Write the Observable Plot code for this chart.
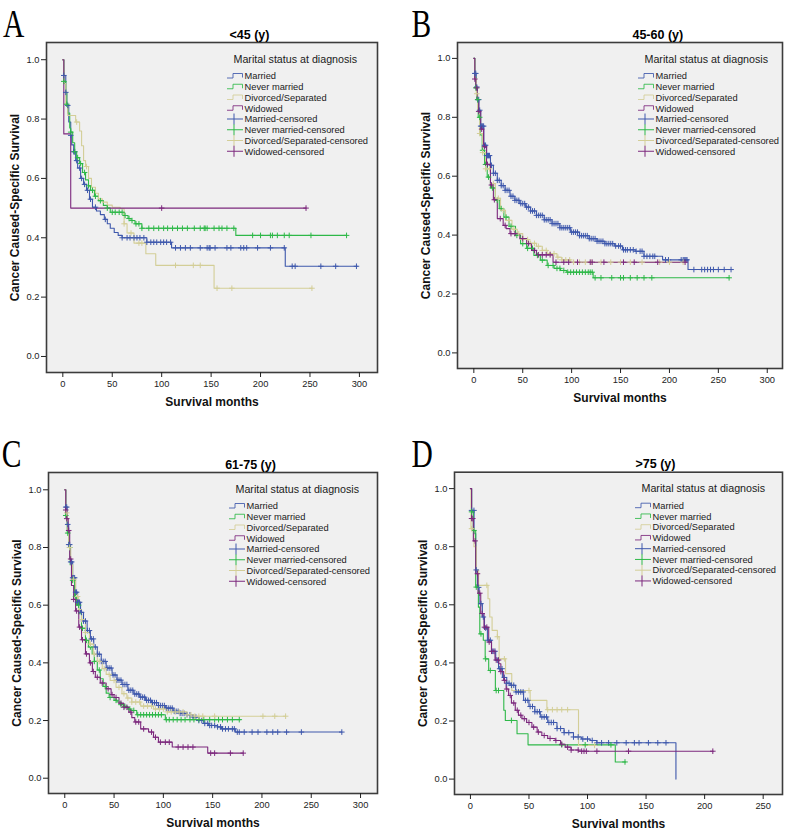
<!DOCTYPE html>
<html>
<head>
<meta charset="utf-8">
<script src="https://cdn.jsdelivr.net/npm/d3@7"></script>
<script src="https://cdn.jsdelivr.net/npm/@observablehq/plot@0.6"></script>
<style>
  html, body { margin: 0; padding: 0; background: #ffffff; }
  #wrap { position: relative; width: 787px; height: 831px; overflow: hidden; }
  .panel { position: absolute; }
  #letters { position: absolute; left: 0; top: 0; pointer-events: none; }
</style>
</head>
<body>
<div id="wrap"></div>
<script>
// ---------- DATA ----------
const series = ["Married", "Never married", "Divorced/Separated", "Widowed"];
const xTicksA = [0, 50, 100, 150, 200, 250, 300];
const xTicksD = [0, 50, 100, 150, 200, 250];
const yTicks = [0, 0.2, 0.4, 0.6, 0.8, 1.0];
const panelTitles = ["<45 (y)", "45-60 (y)", "61-75 (y)", ">75 (y)"];
const panelLetters = ["A", "B", "C", "D"];

// Panel A  (<45)  [months, survival]
const aMarried = [[0,1],[1,0.947],[3,0.89],[4,0.846],[6,0.79],[8,0.745],[9,0.713],[11,0.69],[13,0.66],[15,0.635],[18,0.6],[21,0.58],[24,0.56],[27,0.53],[30,0.503],[34,0.49],[38,0.478],[42,0.462],[45,0.447],[48,0.432],[52,0.418],[56,0.408],[60,0.4],[85,0.385],[110,0.366],[225,0.304],[298,0.304]];
const aMarriedCens = [1,3,5,8,11,12,14,17,19,22,25,28,33,43,60,65,68,72,75,78,82,85,89,92,95,99,102,105,109,114,119,124,129,139,146,148,149,154,166,170,180,183,186,197,210,224,232,235,261,276,297];
const aNever = [[0,1],[1,0.927],[3,0.89],[4,0.85],[5,0.82],[7,0.77],[8,0.756],[10,0.72],[12,0.69],[14,0.67],[17,0.65],[20,0.62],[23,0.595],[26,0.575],[28,0.56],[32,0.54],[36,0.525],[41,0.509],[45,0.5],[48,0.486],[62,0.475],[66,0.465],[69,0.458],[73,0.447],[80,0.432],[175,0.408],[287,0.408]];
const aNeverCens = [1,4,8,12,15,18,22,26,30,33,38,45,50,53,57,60,63,67,70,74,77,80,87,92,97,102,106,111,116,121,126,133,139,143,144,146,153,158,161,166,173,192,200,210,212,217,224,229,251,287];
const aDivorced = [[0,1],[1,0.92],[3,0.85],[5,0.812],[13,0.79],[17,0.76],[19,0.71],[21,0.66],[23,0.64],[26,0.6],[29,0.57],[33,0.55],[36,0.531],[40,0.52],[45,0.51],[50,0.503],[58,0.498],[62,0.447],[65,0.416],[72,0.382],[84,0.346],[94,0.307],[153,0.23],[252,0.23]];
const aDivorcedCens = [14,24,62,69,77,80,114,132,139,156,171,252];
const aWidowed = [[0,1],[1,0.75],[8,0.5],[246,0.5]];
const aWidowedCens = [100,246];

// Panel B  (45-60)
const bMarried = [[0,1],[1,0.949],[2.4,0.903],[3.5,0.86],[5.1,0.824],[7,0.77],[10.2,0.705],[13,0.67],[17,0.637],[20,0.61],[24,0.586],[28,0.568],[32,0.552],[37,0.532],[42,0.518],[47,0.507],[53,0.495],[58,0.482],[64,0.467],[72,0.452],[80,0.439],[88,0.425],[99,0.41],[108,0.398],[118,0.388],[126,0.379],[134,0.371],[144,0.363],[152,0.35],[165,0.345],[174,0.328],[193,0.316],[219,0.283],[264,0.283]];
const bMarriedCens = [1,2,3,4,5,6,7,8,9,10,11,12,13,14,15,16,18,20,22,24,26,28,30,32,34,36,38,40,42,44,46,48,50,52,54,56,58,60,62,64,66,68,70,72,74,76,78,80,82,84,86,88,90,92,94,96,98,100,102,104,106,108,110,112,114,116,118,120,122,124,126,128,130,132,134,136,138,140,142,145,148,150,153,155,157,160,163,166,170,172,174,177,180,183,185,196,199,212,214,215,216,217,218,225,233,236,239,242,245,250,256,263];
const bNever = [[0,1],[1,0.937],[2,0.9],[3,0.86],[4.5,0.8],[6.5,0.74],[8.6,0.688],[11,0.64],[13.7,0.597],[17,0.56],[22,0.518],[26,0.49],[30.7,0.461],[36,0.43],[42.6,0.399],[47.8,0.371],[54,0.355],[61.4,0.331],[68,0.315],[75,0.297],[82,0.287],[88.6,0.28],[95,0.274],[122,0.255],[261,0.255]];
const bNeverCens = [2,4,6,9,12,15,19,24,28,33,38,44,50,55,60,65,70,76,81,85,88,92,96,99,102,105,108,111,114,117,119,121,124,130,141,150,153,160,167,174,182,261];
const bDivorced = [[0,1],[1,0.932],[2.5,0.88],[4,0.82],[6,0.745],[9,0.68],[12,0.625],[17,0.575],[22,0.525],[27.3,0.484],[32.4,0.45],[39,0.42],[44.4,0.405],[50,0.385],[56,0.372],[64,0.362],[70,0.348],[75,0.337],[85,0.325],[90,0.316],[99,0.308],[215,0.308]];
const bDivorcedCens = [3,6,9,12,16,20,25,30,36,41,46,50,55,58,62,66,70,74,78,82,86,90,94,98,102,108,114,120,130,140,150,160,172,190,200,214];
const bWidowed = [[0,1],[1,0.93],[2,0.9],[3.5,0.86],[5,0.82],[7,0.76],[10,0.7],[13,0.64],[17,0.57],[20,0.52],[24,0.456],[30,0.433],[33,0.422],[37,0.405],[47,0.388],[54,0.371],[59,0.348],[64,0.333],[81,0.308],[217,0.308]];
const bWidowedCens = [1,3,5,8,11,14,18,21,27,32,38,42,50,56,62,66,70,74,78,84,92,97,106,119,121,133,153,164,188,216];

// Panel C  (61-75)
const cMarried = [[0,1],[1,0.94],[2.4,0.88],[4,0.81],[5.8,0.75],[8,0.695],[10.9,0.645],[13,0.61],[16,0.575],[19,0.545],[22.7,0.512],[26,0.483],[29.4,0.455],[33,0.43],[37,0.405],[42,0.382],[48,0.358],[53,0.34],[58,0.325],[64,0.305],[70,0.292],[76,0.281],[82,0.27],[88,0.262],[95,0.252],[102,0.243],[110,0.232],[117,0.225],[124,0.22],[130,0.212],[136,0.2],[141,0.19],[146,0.183],[155,0.178],[159,0.171],[173,0.16],[281,0.16]];
const cMarriedCens = [1,2,3,4,5,6,7,8,9,10,11,12,13,14,15,17,19,21,23,25,27,29,31,33,35,37,39,41,43,45,47,49,51,53,55,57,59,61,63,65,67,69,71,73,75,77,79,81,83,85,87,89,91,93,95,97,99,101,103,105,107,109,111,113,115,117,119,121,124,127,130,133,136,139,142,145,147,149,152,155,158,160,163,166,170,172,175,177,182,190,196,205,211,216,225,240,281];
const cNever = [[0,1],[1,0.911],[2.5,0.85],[4,0.8],[5.5,0.74],[7.5,0.686],[10,0.63],[12,0.6],[14.2,0.57],[17,0.52],[21,0.478],[24,0.455],[27.8,0.431],[30,0.405],[33,0.375],[36,0.345],[39,0.318],[42,0.295],[45,0.28],[50,0.27],[53,0.264],[57,0.255],[60,0.249],[64,0.24],[67,0.235],[73,0.22],[102,0.203],[178,0.203]];
const cNeverCens = [1,3,5,8,11,14,18,22,26,30,35,41,46,52,57,61,66,70,74,77,80,83,86,89,92,95,98,103,106,110,114,118,122,127,131,136,141,147,152,156,160,165,170,177];
const cDivorced = [[0,1],[1,0.92],[2.5,0.86],[4,0.8],[6,0.74],[8,0.69],[11,0.63],[14,0.585],[17,0.55],[21,0.505],[25,0.465],[29,0.43],[33,0.405],[38,0.38],[42,0.36],[46,0.339],[52,0.315],[58,0.293],[63,0.278],[68,0.264],[77,0.25],[90,0.24],[104,0.23],[124,0.22],[131,0.215],[224,0.215]];
const cDivorcedCens = [2,5,9,13,17,21,26,30,35,40,45,50,55,60,64,68,72,76,80,84,88,92,96,100,104,108,112,116,120,124,128,132,136,140,152,201,213,224];
const cWidowed = [[0,1],[1,0.93],[2,0.9],[3.5,0.859],[5,0.76],[6.8,0.668],[9,0.62],[11,0.58],[14.2,0.524],[17,0.48],[21,0.431],[25,0.4],[28,0.37],[31,0.35],[36,0.33],[42,0.31],[47,0.29],[50,0.28],[55,0.26],[60,0.246],[65,0.229],[68,0.21],[71,0.195],[77,0.171],[85,0.16],[90,0.142],[95,0.125],[109,0.108],[145,0.087],[181,0.087]];
const cWidowedCens = [1,2,4,6,9,12,15,18,22,26,29,33,38,44,48,52,57,60,63,67,72,75,80,88,92,97,102,106,115,120,125,130,148,152,168,181];

// Panel D  (>75)
const dMarried = [[0,1],[1,0.925],[3.1,0.845],[4.5,0.72],[6,0.66],[7.4,0.604],[10.2,0.558],[12,0.52],[14.5,0.478],[18,0.44],[21.6,0.409],[24,0.38],[27.3,0.35],[31,0.33],[34,0.323],[38.6,0.3],[45.4,0.271],[50,0.25],[55,0.232],[59.7,0.214],[66,0.195],[73.9,0.174],[80,0.16],[88,0.145],[95,0.138],[102.3,0.133],[108,0.125],[175.5,0]];
const dMarriedCens = [1,3,5,7,9,11,13,15,17,19,21,23,25,27,29,31,33,35,37,39,41,43,45,47,49,51,53,55,57,59,61,63,65,67,69,71,74,77,80,84,88,92,96,100,104,108,112,118,125,133,140,144,152,160,167];
const dNever = [[0,1],[1,0.92],[2.5,0.856],[4.5,0.661],[6.8,0.592],[8,0.5],[11,0.478],[12.6,0.414],[15.6,0.374],[21.3,0.305],[28.5,0.237],[29.8,0.202],[39.8,0.156],[49.2,0.118],[123.7,0.059],[132.4,0.059]];
const dNeverCens = [1,3,5,9,13,17,22,24,35,78,98,120,132];
const dDivorced = [[0,1],[0.5,0.862],[3,0.8],[5,0.72],[7,0.667],[15,0.621],[16.5,0.558],[18.5,0.512],[23,0.49],[24.5,0.414],[30,0.363],[35.3,0.305],[51,0.271],[65.3,0.239],[92.3,0.116],[106.5,0.116]];
const dDivorcedCens = [1,14,23,29,50,66,70,74,78,83,106];
const dWidowed = [[0,1],[1,0.897],[2.5,0.82],[4.5,0.707],[6.5,0.64],[8.8,0.57],[11.6,0.523],[15.6,0.472],[18,0.44],[21,0.41],[24.2,0.397],[26,0.37],[28.4,0.34],[30.5,0.31],[32.6,0.288],[35,0.262],[38.3,0.237],[41,0.22],[44,0.208],[48,0.195],[52.5,0.179],[57,0.162],[61,0.15],[66,0.14],[72.4,0.133],[77,0.12],[80.9,0.11],[86,0.1],[92.3,0.096],[207.3,0.096]];
const dWidowedCens = [1,2,4,6,8,10,12,14,16,18,20,22,24,26,29,31,34,37,40,43,46,50,54,58,63,68,73,78,83,86,92,95,97,99,108,135,207];

// ---------- STYLE ----------
const FONT = "'Liberation Sans', Arial, Helvetica, sans-serif";
const COLORS = ["#3E58AC", "#2EB848", "#D3CE97", "#7C287D"];

const panels = [
  { curves: [aMarried, aNever, aDivorced, aWidowed], cens: [aMarriedCens, aNeverCens, aDivorcedCens, aWidowedCens],
    left: 0, top: 0, width: 390, height: 415, m: { l: 46, r: 13, t: 42, b: 43 },
    xDomain: [-16.5, 318.3], yDomain: [-0.054, 1.058], xTicks: xTicksA, titleDx: 37.5 },
  { curves: [bMarried, bNever, bDivorced, bWidowed], cens: [bMarriedCens, bNeverCens, bDivorcedCens, bWidowedCens],
    left: 390, top: 0, width: 397, height: 415, m: { l: 67, r: 5, t: 42, b: 47 },
    xDomain: [-16.7, 315.6], yDomain: [-0.053, 1.054], xTicks: xTicksA, titleDx: 37.8 },
  { curves: [cMarried, cNever, cDivorced, cWidowed], cens: [cMarriedCens, cNeverCens, cDivorcedCens, cWidowedCens],
    left: 0, top: 415, width: 390, height: 416, m: { l: 48, r: 13, t: 57, b: 38 },
    xDomain: [-16.5, 317.2], yDomain: [-0.053, 1.06], xTicks: xTicksA, titleDx: 37.5 },
  { curves: [dMarried, dNever, dDivorced, dWidowed], cens: [dMarriedCens, dNeverCens, dDivorcedCens, dWidowedCens],
    left: 390, top: 415, width: 397, height: 416, m: { l: 64, r: 5, t: 56.7, b: 37 },
    xDomain: [-13.6, 266.5], yDomain: [-0.053, 1.0565], xTicks: xTicksD, titleDx: 37 }
];

function stepAt(curve, t) {
  let v = curve[0][1];
  for (const [ct, cs] of curve) { if (ct <= t) v = cs; else break; }
  return v;
}

// censor "+" symbol
const plusSymbol = {
  draw(context, size) {
    const r = Math.sqrt(size / Math.PI);
    context.moveTo(-r, 0); context.lineTo(r, 0);
    context.moveTo(0, -r); context.lineTo(0, r);
  }
};

function legendMark(p) {
  return () => {
    const g = d3.create("svg:g").attr("font-family", FONT).attr("fill", "#1a1a1a").attr("text-anchor", "start");
    const x0 = p.m.l + 181;
    g.append("text").attr("x", x0 + 6.5).attr("y", p.m.t + 16.8).attr("dy", "0.35em")
      .attr("text-anchor", "start").attr("font-size", 10.7).text("Marital status at diagnosis");
    const labels = [...series, ...series.map((s) => s + "-censored")];
    labels.forEach((lab, i) => {
      const y = p.m.t + 34 + i * 10.75;
      const c = COLORS[i % 4];
      if (i < 4) {
        g.append("path").attr("d", `M${x0},${y + 2}H${x0 + 6}V${y - 2.5}H${x0 + 15.5}V${y + 1.5}`)
          .attr("fill", "none").attr("stroke", c).attr("stroke-width", 1).attr("opacity", 0.85);
      } else {
        g.append("path").attr("d", `M${x0},${y}H${x0 + 16}M${x0 + 7},${y - 5.5}V${y + 5.5}`)
          .attr("fill", "none").attr("stroke", c).attr("stroke-width", 1);
      }
      g.append("text").attr("x", x0 + 17.5).attr("y", y).attr("dy", "0.35em")
        .attr("text-anchor", "start").attr("font-size", 9.3).text(lab);
    });
    return g.node();
  };
}

const wrap = document.getElementById("wrap");

panels.forEach((p, pi) => {
  const lineMarks = p.curves.map((c, i) =>
    Plot.line(c.map(([t, s]) => ({ t, s })), {
      x: "t", y: "s", curve: "step-after", stroke: COLORS[i], strokeWidth: 1.1
    })
  );
  const censMarks = p.cens.map((times, i) =>
    Plot.dot(times.map((t) => ({ t, s: stepAt(p.curves[i], t) })), {
      x: "t", y: "s", r: 2.8, symbol: plusSymbol, fill: "none", stroke: COLORS[i], strokeWidth: 1
    })
  );
  const chart = Plot.plot({
    width: p.width,
    height: p.height,
    marginLeft: p.m.l, marginRight: p.m.r, marginTop: p.m.t, marginBottom: p.m.b,
    style: { fontFamily: FONT, background: "transparent", color: "#222", overflow: "visible" },
    x: { domain: p.xDomain },
    y: { domain: p.yDomain },
    marks: [
      Plot.frame({ fill: "#f0f0f0", stroke: "none" }),
      ...lineMarks,
      ...censMarks,
      legendMark(p),
      Plot.frame({ stroke: "#3c3c3c", strokeWidth: 1.6 }),
      Plot.axisX({ ticks: p.xTicks, tickSize: 5, tickPadding: 3, fontSize: 9.3, label: null }),
      Plot.axisY({ ticks: yTicks, tickFormat: d3.format(".1f"), tickSize: 5, tickPadding: 2, fontSize: 9.3, label: null }),
      Plot.text([panelTitles[pi]], { text: (d) => d, frameAnchor: "top", dx: p.titleDx, dy: -8, lineAnchor: "middle", textAnchor: "middle", fontWeight: "bold", fontSize: 12.5, fill: "#000" }),
      Plot.text(["Survival months"], { text: (d) => d, frameAnchor: "bottom", dy: 30, lineAnchor: "middle", textAnchor: "middle", fontWeight: "bold", fontSize: 12, fill: "#111" }),
      Plot.text(["Cancer Caused-Specific Survival"], { text: (d) => d, frameAnchor: "left", dx: -31, rotate: -90, lineAnchor: "middle", textAnchor: "middle", fontWeight: "bold", fontSize: 12, fill: "#111" })
    ]
  });
  const div = document.createElement("div");
  div.className = "panel";
  div.style.left = p.left + "px";
  div.style.top = p.top + "px";
  div.appendChild(chart);
  wrap.appendChild(div);
});

// panel letters (serif, condensed look)
const letterPos = [[3, 36.5], [411.5, 36.5], [1.7, 466.5], [411.5, 466.5]];
const lsvg = d3.select(wrap).append("svg").attr("id", "letters").attr("width", 787).attr("height", 831);
panelLetters.forEach((L, i) => {
  lsvg.append("text")
    .attr("transform", `translate(${letterPos[i][0]},${letterPos[i][1]}) scale(0.72,1)`)
    .attr("font-family", "'Liberation Serif', 'Times New Roman', serif")
    .attr("font-size", 41).attr("fill", "#000").text(L);
});
</script>
</body>
</html>
